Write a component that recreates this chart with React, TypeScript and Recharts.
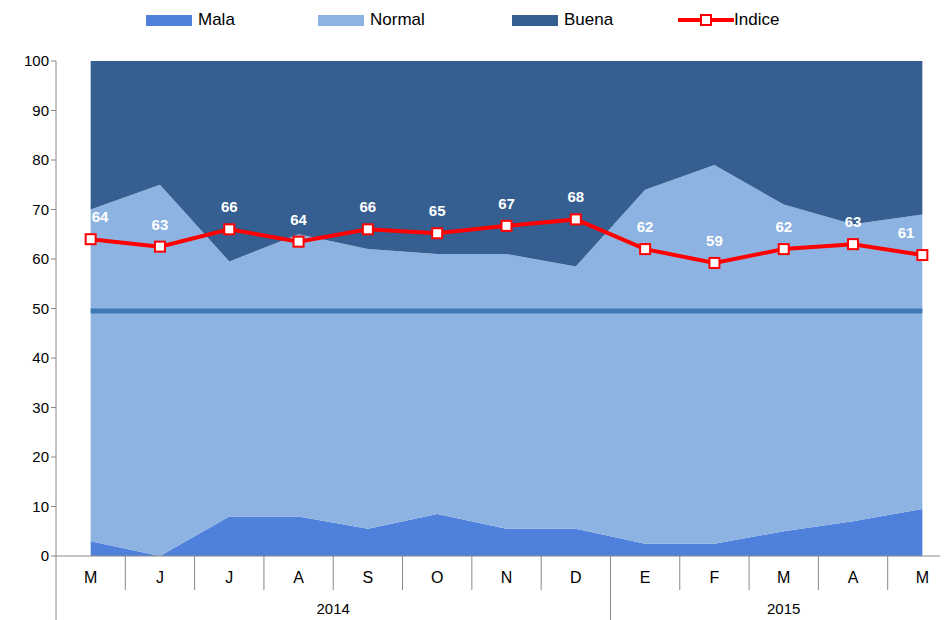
import React from "react";
import { ComposedChart, Area, Line, XAxis, YAxis } from "recharts";

const months = ["M", "J", "J", "A", "S", "O", "N", "D", "E", "F", "M", "A", "M"];
const mala = [3, 0, 8, 8, 5.5, 8.5, 5.5, 5.5, 2.5, 2.5, 5, 7, 9.5];
const normalTop = [70, 75, 59.5, 65, 62, 61, 61, 58.5, 74, 79, 71, 67, 69];
const indice = [64, 62.5, 66, 63.5, 66, 65.2, 66.7, 68, 62, 59.2, 62, 63, 60.8];
const refValue = 49.5;
const yearLabels = ["2014", "2015"];

const data = months.map((m, i) => ({
  idx: i,
  m,
  mala: mala[i],
  normal: normalTop[i] - mala[i],
  buena: 100 - normalTop[i],
  indice: indice[i],
  ref: refValue,
}));

const HALF = 34.65;
const FONT = "Liberation Sans, Arial, sans-serif";

const MonthTick = (props: any) => {
  const { x, y, payload } = props;
  const i = payload.value;
  const left = x - HALF;
  const right = x + HALF;
  const els: any[] = [];
  els.push(
    <text key="t" x={x} y={y + 27} textAnchor="middle" fontSize={16} fill="#000" fontFamily={FONT}>
      {months[i]}
    </text>
  );
  const tall = i === 0 || i === 8;
  els.push(<line key="l" x1={left} x2={left} y1={y} y2={tall ? y + 70 : y + 34} stroke="#888" />);
  if (i === 12) els.push(<line key="r" x1={right} x2={right} y1={y} y2={y + 70} stroke="#888" />);
  if (i === 0)
    els.push(
      <text key="y1" x={x - HALF + 8 * HALF} y={y + 58} textAnchor="middle" fontSize={15} fontFamily={FONT}>
        {yearLabels[0]}
      </text>
    );
  if (i === 8)
    els.push(
      <text key="y2" x={x - HALF + 5 * HALF} y={y + 58} textAnchor="middle" fontSize={15} fontFamily={FONT}>
        {yearLabels[1]}
      </text>
    );
  return <g>{els}</g>;
};

const Marker = (props: any) => {
  const { cx, cy, value, index } = props;
  const anchor = index === 0 ? "start" : index === months.length - 1 ? "end" : "middle";
  const tx = index === 0 ? cx + 1 : index === months.length - 1 ? cx - 8 : cx;
  return (
    <g>
      <rect x={cx - 5} y={cy - 5} width={10} height={10} fill="#fff" stroke="#ff0000" strokeWidth={2} />
      <text x={tx} y={cy - 17} textAnchor={anchor} fill="#fff" fontWeight="bold" fontSize={15} fontFamily={FONT}>
        {Math.round(value)}
      </text>
    </g>
  );
};

const legendItems = [
  { name: "Mala", color: "#4f81dc", x: 146 },
  { name: "Normal", color: "#8db3e2", x: 318 },
  { name: "Buena", color: "#355f91", x: 512 },
];

export default function App() {
  return (
    <div style={{ position: "relative", width: 940, height: 612, overflow: "hidden", fontFamily: FONT }}>
      {legendItems.map((l) => (
        <div key={l.name} style={{ position: "absolute", left: l.x - 8, top: 2, display: "flex", alignItems: "center", fontSize: 17 }}>
          <div style={{ width: 46, height: 11, background: l.color, marginRight: 6 }} />
          <span>{l.name}</span>
        </div>
      ))}
      <div style={{ position: "absolute", left: 678 - 8, top: 2, display: "flex", alignItems: "center", fontSize: 17 }}>
        <svg width={56} height={16}>
          <line x1={0} x2={56} y1={8} y2={8} stroke="#ff0000" strokeWidth={4} />
          <rect x={23} y={3} width={10} height={10} fill="#fff" stroke="#ff0000" strokeWidth={2} />
        </svg>
        <span>Indice</span>
      </div>
      <ComposedChart width={960} height={612} data={data} margin={{ top: 53, right: 11, bottom: 8, left: 8 }}>
        <XAxis
          dataKey="idx"
          type="number"
          domain={[-0.5, 12.5]}
          ticks={[0, 1, 2, 3, 4, 5, 6, 7, 8, 9, 10, 11, 12]}
          tick={<MonthTick />}
          tickLine={false}
          tickSize={0}
          tickMargin={0}
          interval={0}
          height={56}
          stroke="#888"
        />
        <YAxis
          domain={[0, 100]}
          ticks={[0, 10, 20, 30, 40, 50, 60, 70, 80, 90, 100]}
          width={40}
          stroke="#888"
          tickSize={5}
          tick={{ fontSize: 15, fill: "#000", fontFamily: FONT }}
          interval={0}
        />
        <Area dataKey="mala" stackId="a" type="linear" stroke="none" fill="#4f81dc" fillOpacity={1} isAnimationActive={false} />
        <Area dataKey="normal" stackId="a" type="linear" stroke="none" fill="#8db3e2" fillOpacity={1} isAnimationActive={false} />
        <Area dataKey="buena" stackId="a" type="linear" stroke="none" fill="#355f91" fillOpacity={1} isAnimationActive={false} />
        <Line dataKey="ref" type="linear" stroke="#3e78b5" strokeWidth={5} dot={false} isAnimationActive={false} />
        <Line dataKey="indice" type="linear" stroke="#ff0000" strokeWidth={4} dot={<Marker />} isAnimationActive={false} />
      </ComposedChart>
    </div>
  );
}
